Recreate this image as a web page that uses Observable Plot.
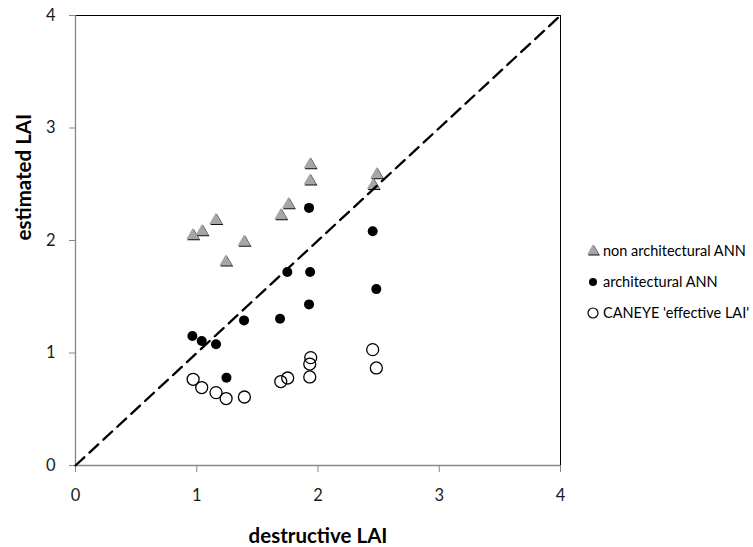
<!DOCTYPE html>
<html>
<head>
<meta charset="utf-8">
<script src="https://cdn.jsdelivr.net/npm/d3@7"></script>
<script src="https://cdn.jsdelivr.net/npm/@observablehq/plot@0.6"></script>
<style>
  body { margin: 0; background: #fff; }
  #wrap { position: relative; width: 753px; height: 547px; font-family: Lato, "Open Sans", sans-serif; }
  #legend { position: absolute; left: 587px; top: 235px; font-size: 14.5px; color: #000; }
  #legend .item { display: flex; align-items: center; height: 31px; }
  #legend svg { margin-right: 3px; }
</style>
</head>
<body>
<div id="wrap"><div id="legend"></div></div>
<script>
// Tick values
const ticks = [0, 1, 2, 3, 4];
const oneToOne = [0, 4];

// non architectural ANN (triangles)
const nonArchX = [0.967, 1.043, 1.157, 1.239, 1.390, 1.693, 1.756, 1.934, 1.935, 2.456, 2.484];
const nonArchY = [2.045, 2.080, 2.180, 1.810, 1.986, 2.223, 2.320, 2.530, 2.676, 2.490, 2.587];

// architectural ANN (filled circles)
const archX = [0.964, 1.041, 1.159, 1.245, 1.390, 1.687, 1.747, 1.935, 1.926, 1.926, 2.451, 2.481];
const archY = [1.151, 1.107, 1.077, 0.781, 1.290, 1.305, 1.720, 1.720, 1.432, 2.290, 2.083, 1.568];

// CANEYE 'effective LAI' (open circles)
const canX = [0.970, 1.041, 1.159, 1.242, 1.393, 1.693, 1.750, 1.940, 1.932, 1.932, 2.451, 2.481];
const canY = [0.766, 0.693, 0.648, 0.595, 0.609, 0.746, 0.778, 0.959, 0.902, 0.787, 1.030, 0.867];

const seriesNames = ["non architectural ANN", "architectural ANN", "CANEYE 'effective LAI'"];

const nonArch = nonArchX.map((x, i) => ({x, y: nonArchY[i]}));
const arch = archX.map((x, i) => ({x, y: archY[i]}));
const can = canX.map((x, i) => ({x, y: canY[i]}));

const axisGrey = "#868686";

const chart = Plot.plot({
  width: 753,
  height: 547,
  marginLeft: 75,
  marginRight: 193,
  marginTop: 15,
  marginBottom: 82,
  x: {domain: [0, 4]},
  y: {domain: [0, 4]},
  style: {fontFamily: "Lato, 'Open Sans', sans-serif", background: "white"},
  marks: [
    Plot.ruleY([ticks[ticks.length - 1]], {stroke: "#000", strokeWidth: 1}),
    Plot.ruleX([ticks[ticks.length - 1]], {stroke: "#000", strokeWidth: 1}),
    Plot.ruleY([ticks[0]], {stroke: axisGrey, strokeWidth: 1.3}),
    Plot.ruleX([ticks[0]], {stroke: axisGrey, strokeWidth: 1.3}),
    Plot.axisX(ticks, {tickSize: 7, tickPadding: 17, fontSize: 16.5, stroke: axisGrey, fill: "#1a1a1a", label: null, tickFormat: d => String(d)}),
    Plot.axisY(ticks, {tickSize: 6, tickPadding: 14, fontSize: 16.5, stroke: axisGrey, fill: "#1a1a1a", label: null, tickFormat: d => String(d)}),
    Plot.text(["destructive LAI"], {frameAnchor: "bottom", dy: 71, fontSize: 20.5, fontWeight: "bold", fill: "#000", lineAnchor: "middle"}),
    Plot.text(["estimated LAI"], {frameAnchor: "left", dx: -51, rotate: -90, fontSize: 20.5, fontWeight: "bold", fill: "#000", lineAnchor: "middle"}),
    // triangles with shadow
    Plot.dot(nonArch, {x: "x", y: "y", symbol: "triangle", r: 4.8, fill: "#111", stroke: "none", dx: 1, dy: 1}),
    Plot.dot(nonArch, {x: "x", y: "y", symbol: "triangle", r: 4.8, fill: "#a6a6a6", stroke: "none"}),
    Plot.dot(arch, {x: "x", y: "y", r: 5, fill: "#000", stroke: "none"}),
    Plot.dot(can, {x: "x", y: "y", r: 6, fill: "none", stroke: "#000", strokeWidth: 1.3}),
    Plot.line(oneToOne.map(v => ({x: v, y: v})), {x: "x", y: "y", stroke: "#000", strokeWidth: 2.3, strokeDasharray: "12,7"})
  ]
});
document.getElementById("wrap").prepend(chart);

// legend
const legend = d3.select("#legend");
const symbols = [
  g => { g.append("path").attr("d", d3.symbol(d3.symbolTriangle, 60)()).attr("transform", "translate(7,8)").attr("fill", "#111");
         g.append("path").attr("d", d3.symbol(d3.symbolTriangle, 60)()).attr("transform", "translate(6,7)").attr("fill", "#a6a6a6"); },
  g => { g.append("circle").attr("cx", 6).attr("cy", 7).attr("r", 4).attr("fill", "#000"); },
  g => { g.append("circle").attr("cx", 6).attr("cy", 7).attr("r", 5).attr("fill", "none").attr("stroke", "#000").attr("stroke-width", 1.2); }
];
seriesNames.forEach((name, i) => {
  const item = legend.append("div").attr("class", "item");
  const s = item.append("svg").attr("width", 13).attr("height", 14);
  symbols[i](s);
  item.append("span").text(name);
});
</script>
</body>
</html>
